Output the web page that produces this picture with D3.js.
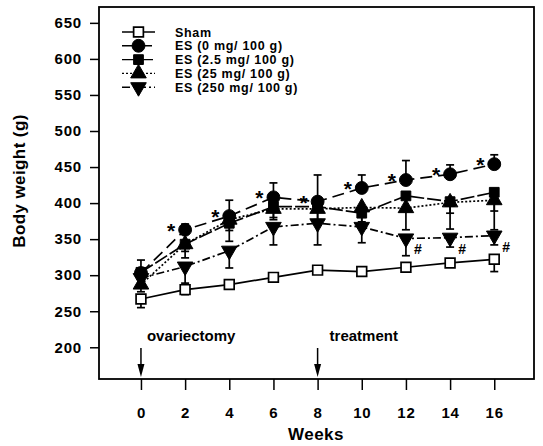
<!doctype html>
<html lang="en">
<head>
<meta charset="utf-8" />
<style>
  body { margin: 0; background: #fff; }
  svg text { font-family: "Liberation Sans", Arial, sans-serif; fill: #000; font-weight: bold; }
  .legend-label { font-size: 12.5px; letter-spacing: 0.7px; }
</style>
</head>
<body>
<div id="chart"></div>
<script src="https://cdn.jsdelivr.net/npm/d3@7"></script>
<script>
  // data
  var weeks = [0, 2, 4, 6, 8, 10, 12, 14, 16];
  var yTicks = [200, 250, 300, 350, 400, 450, 500, 550, 600, 650];

  var shamMean  = [267, 280, 287, 297, 307, 305, 311, 317, 322];
  var shamErr   = [12, 7, 5, 5, 5, 5, 4, 5, 17];
  var es0Mean   = [303, 363, 382, 408, 402, 421, 432, 440, 454];
  var es0Err    = [18, 8, 22, 20, 37, 18, 27, 13, 13];
  var es25Mean  = [287, 343, 377, 392, 392, 394, 393, 401, 404];
  var es25Err   = [10, 10, 15, 15, 15, 20, 30, 15, 15];
  var es250Mean = [296, 312, 334, 367, 372, 367, 351, 352, 355];
  var es250Err  = [10, 23, 24, 25, 30, 22, 24, 13, 13];
  var es2Mean   = [304, 343, 372, 395, 395, 386, 410, 402, 415];
  var es2Err    = [10, 19, 25, 15, 20, 15, 20, 38, 52];

  var starWeeks = [2, 4, 6, 8, 10, 12, 14, 16];
  var hashWeeks = [12, 14, 16];

  var series = [
    { name: "Sham",               mean: shamMean,  err: shamErr,  dir: -1, shape: "square", fill: "#fff", dash: null },
    { name: "ES (250 mg/ 100 g)", mean: es250Mean, err: es250Err, dir: -1, shape: "tri-down", fill: "#000", dash: "8,3,2,3" },
    { name: "ES (25 mg/ 100 g)",  mean: es25Mean,  err: es25Err,  dir: -1, shape: "tri-up", fill: "#000", dash: "2,2" },
    { name: "ES (2.5 mg/ 100 g)", mean: es2Mean,   err: es2Err,   dir: -1, shape: "square", fill: "#000", dash: "14,3" },
    { name: "ES (0 mg/ 100 g)",   mean: es0Mean,   err: es0Err,   dir: 1,  shape: "circle", fill: "#000", dash: "12,6" }
  ];
  var legendOrder = [0, 4, 3, 2, 1];

  var width = 543, height = 446;
  var plotLeft = 99, plotRight = 534, plotTop = 7, plotBottom = 379;

  var svg = d3.select("#chart").append("svg")
      .attr("width", width)
      .attr("height", height);

  var x = d3.scaleLinear().domain([-1.9, 17.8]).range([plotLeft, plotRight]);
  var y = d3.scaleLinear().domain([156, 672]).range([plotBottom, plotTop]);

  var symbols = {
    "square": d3.symbol().type(d3.symbolSquare).size(95),
    "circle": d3.symbol().type(d3.symbolCircle).size(130),
    "tri-up": d3.symbol().type(d3.symbolTriangle).size(105),
    "tri-down": d3.symbol().type(d3.symbolTriangle).size(105)
  };
  function marker(g, s, cx, cy) {
    g.append("path")
      .attr("d", symbols[s.shape]())
      .attr("transform", "translate(" + cx + "," + cy + ")" + (s.shape == "tri-down" ? " rotate(180)" : ""))
      .attr("fill", s.fill)
      .attr("stroke", "#000")
      .attr("stroke-width", s.fill == "#fff" ? 1.7 : 1);
  }

  // frame
  svg.append("rect")
    .attr("x", plotLeft).attr("y", plotTop)
    .attr("width", plotRight - plotLeft).attr("height", plotBottom - plotTop)
    .attr("fill", "none").attr("stroke", "#000").attr("stroke-width", 1.8);

  // y axis
  var yAxis = d3.axisLeft(y).tickValues(yTicks).tickSize(9).tickPadding(8);
  var gy = svg.append("g").attr("transform", "translate(" + plotLeft + ",0)").call(yAxis);
  gy.select(".domain").remove();
  gy.selectAll("line").attr("stroke-width", 1.5);
  gy.selectAll("text").style("font-size", "15px").style("letter-spacing", "0.8px").attr("font-family", null);

  // x axis
  var xAxis = d3.axisBottom(x).tickValues(weeks).tickSize(11).tickPadding(17);
  var gx = svg.append("g").attr("transform", "translate(0," + plotBottom + ")").call(xAxis);
  gx.select(".domain").remove();
  gx.selectAll("line").attr("stroke-width", 1.5);
  gx.selectAll("text").style("font-size", "15px").style("letter-spacing", "0.8px").attr("font-family", null);

  svg.append("text")
    .attr("x", 316).attr("y", 440)
    .attr("text-anchor", "middle")
    .style("font-size", "17px")
    .style("letter-spacing", "0.5px")
    .text("Weeks");

  svg.append("text")
    .attr("transform", "translate(25,181) rotate(-90)")
    .attr("text-anchor", "middle")
    .style("font-size", "17px")
    .style("letter-spacing", "0.4px")
    .text("Body weight (g)");

  // series
  var line = d3.line();
  series.forEach(function(s) {
    var g = svg.append("g");
    var pts = weeks.map(function(w, i) { return [x(w), y(s.mean[i])]; });
    g.append("path")
      .attr("d", line(pts))
      .attr("fill", "none")
      .attr("stroke", "#000")
      .attr("stroke-width", 1.7)
      .attr("stroke-dasharray", s.dash);
    weeks.forEach(function(w, i) {
      var cx = x(w), y0 = y(s.mean[i]), y1 = y(s.mean[i] + s.dir * s.err[i]);
      g.append("line").attr("x1", cx).attr("x2", cx).attr("y1", y0).attr("y2", y1)
        .attr("stroke", "#000").attr("stroke-width", 1.7);
      g.append("line").attr("x1", cx - 4).attr("x2", cx + 4).attr("y1", y1).attr("y2", y1)
        .attr("stroke", "#000").attr("stroke-width", 1.7);
    });
    weeks.forEach(function(w, i) { marker(g, s, x(w), y(s.mean[i])); });
  });

  // significance marks
  svg.selectAll("text.star")
    .data(starWeeks)
    .enter().append("text")
    .attr("class", "star")
    .attr("x", function(w) { return x(w) - 14; })
    .attr("y", function(w) { return y(es0Mean[weeks.indexOf(w)]) + 8; })
    .attr("text-anchor", "middle")
    .style("font-size", "21px")
    .text("*");

  svg.selectAll("text.hash")
    .data(hashWeeks)
    .enter().append("text")
    .attr("class", "hash")
    .attr("x", function(w) { return x(w) + 12; })
    .attr("y", function(w) { return y(es250Mean[weeks.indexOf(w)]) + 16; })
    .attr("text-anchor", "middle")
    .style("font-size", "14px")
    .text("#");

  // event arrows
  var events = [{ w: 0, label: "ovariectomy", dx: 6 }, { w: 8, label: "treatment", dx: 12 }];
  events.forEach(function(e) {
    var cx = x(e.w);
    svg.append("line").attr("x1", cx).attr("x2", cx).attr("y1", 348).attr("y2", 372)
      .attr("stroke", "#000").attr("stroke-width", 1.5);
    svg.append("path")
      .attr("d", "M" + (cx - 3.5) + ",364 L" + (cx + 3.5) + ",364 L" + cx + ",377 Z")
      .attr("fill", "#000");
    svg.append("text")
      .attr("x", cx + e.dx).attr("y", 341)
      .style("font-size", "15px")
      .text(e.label);
  });

  // legend
  var lg = svg.append("g");
  legendOrder.forEach(function(k, j) {
    var s = series[k];
    var ly = 32 + j * 13.8;
    lg.append("line").attr("x1", 122).attr("x2", 155).attr("y1", ly).attr("y2", ly)
      .attr("stroke", "#000").attr("stroke-width", 1.4)
      .attr("stroke-dasharray", s.dash);
    marker(lg, s, 138.5, ly);
    lg.append("text")
      .attr("x", 175).attr("y", ly + 4.5)
      .attr("class", "legend-label")
      .text(s.name);
  });
</script>
</body>
</html>
